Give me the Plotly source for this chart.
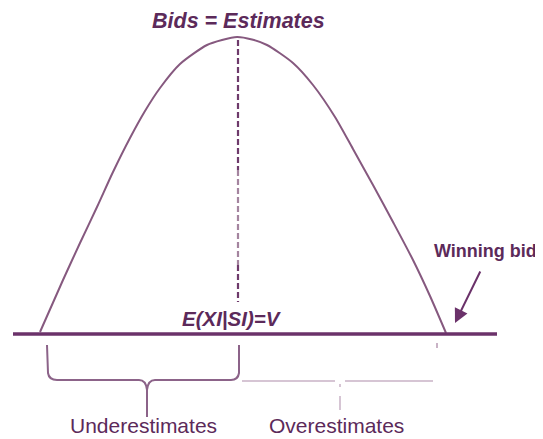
import plotly.graph_objects as go

# curve (pixel-like units, y grows downward)
curve_x = [40, 63, 80, 97, 113, 130, 145, 160, 180, 207, 222, 237,
           252, 267, 293, 313, 335, 353, 373, 393, 413, 430, 446]
curve_y = [332, 280, 243, 207, 172, 138, 111, 88, 64, 45, 40, 37,
           39.5, 45, 63, 85, 117, 149, 185, 222, 260, 296, 333]

# dashed estimate line, split where its ink gets lighter / darker
estimate_x = 238
estimate_y = [40, 170, 265, 302]
estimate_col = ['#6e3a6b', '#a4849f', '#6e3a6b']

base_x = [13, 497]
base_y = [334, 334]

ink = '#5c2a5a'
curve_col = '#86597f'
faint = '#c9b3c6'

fig = go.Figure()
fig.add_trace(go.Scatter(x=curve_x, y=curve_y, mode='lines',
                         line=dict(color=curve_col, width=2, shape='spline', smoothing=0.7)))
for i, col in enumerate(estimate_col):
    fig.add_trace(go.Scatter(x=[estimate_x, estimate_x], y=estimate_y[i:i + 2], mode='lines',
                             line=dict(color=col, width=2.2, dash='6px,3px')))
fig.add_trace(go.Scatter(x=base_x, y=base_y, mode='lines',
                         line=dict(color='#6b326a', width=3.5)))

# braces under the baseline
fig.add_shape(type='path', line=dict(color='#8c6389', width=2),
              path='M 47,345 L 48,373 Q 49,380 57,380 L 139,380 Q 146,380 147,390 L 147,417')
fig.add_shape(type='path', line=dict(color='#8c6389', width=2),
              path='M 239,345 L 239,373 Q 238,380 231,380 L 155,380 Q 148,380 147,390')
fig.add_shape(type='path', line=dict(color=faint, width=1.5),
              path='M 242,381 L 335,381 M 345,381 L 433,381 M 340,384 L 340,387 M 340,396 L 340,410')
fig.add_shape(type='path', line=dict(color=faint, width=2),
              path='M 437,343 L 437,348')

fig.add_annotation(x=238, y=21, text='<b><i>Bids = Estimates</i></b>', showarrow=False,
                   font=dict(size=21.5, color=ink), borderpad=0)
fig.add_annotation(x=232, y=318, text='<b><i>E(XI|SI)=V</i></b>', showarrow=False,
                   font=dict(size=20.5, color=ink))
fig.add_annotation(x=485, y=251, text='<b>Winning bid</b>', showarrow=False,
                   font=dict(size=18, color=ink))
fig.add_annotation(x=143, y=425, text='Underestimates', showarrow=False,
                   font=dict(size=21, color=ink))
fig.add_annotation(x=336, y=425, text='Overestimates', showarrow=False,
                   font=dict(size=21, color=ink))
fig.add_annotation(x=455, y=323, ax=481, ay=270, xref='x', yref='y', axref='x', ayref='y',
                   text='', showarrow=True, arrowhead=2, arrowsize=1.4, arrowwidth=2,
                   arrowcolor='#6b326a')

# the page puts the plot 8px in from the corner, so the ranges start at 8
fig.update_xaxes(range=[8, 543], visible=False)
fig.update_yaxes(range=[439, 8], visible=False)
fig.update_layout(
    width=535, height=431,
    margin=dict(l=0, r=0, t=0, b=0),
    showlegend=False,
    paper_bgcolor='white', plot_bgcolor='white',
    font=dict(family='Liberation Sans, Arial, sans-serif', color=ink),
)

fig.write_html("out.html")
